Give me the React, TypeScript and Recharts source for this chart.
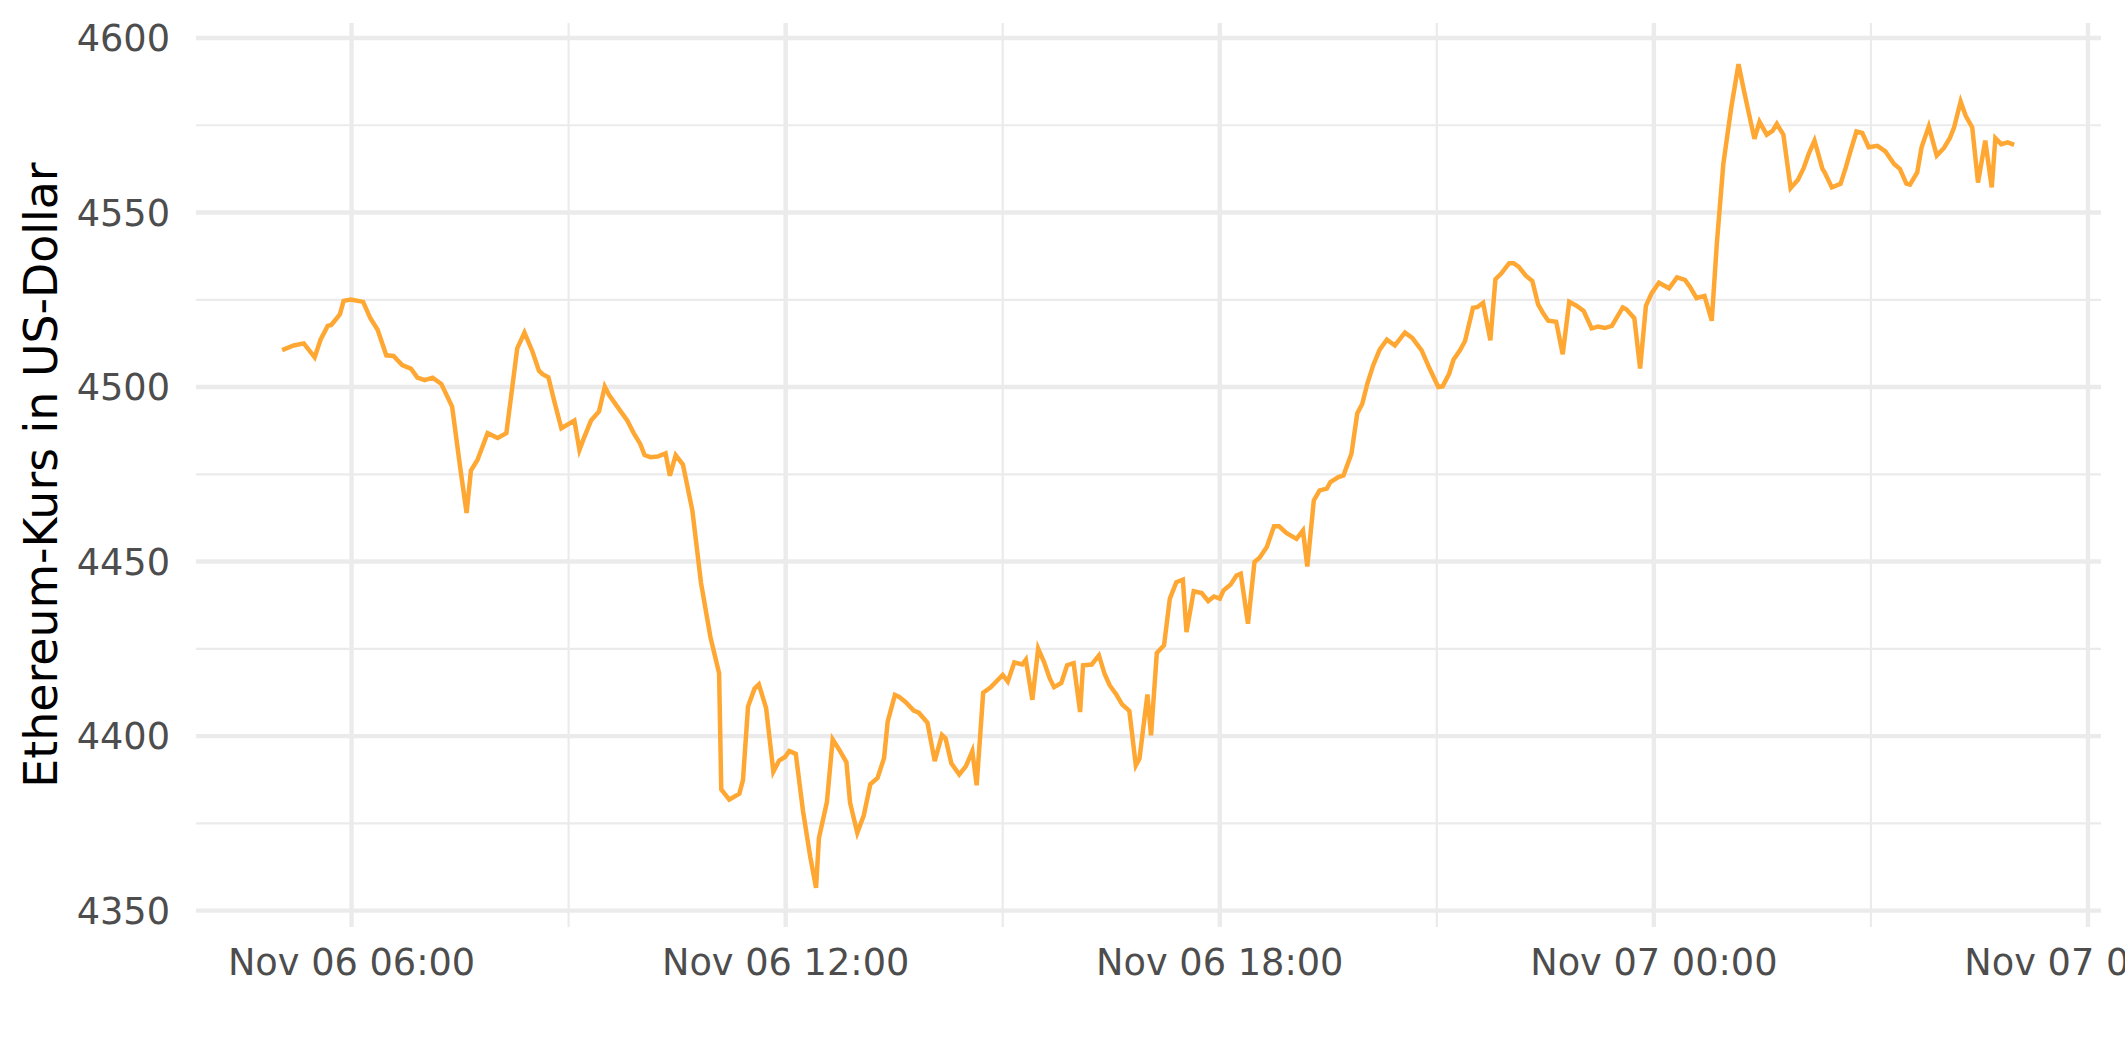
import { CartesianGrid, Line, LineChart, XAxis, YAxis } from 'recharts';

// hours since Nov 06 00:00
const hours = [
  5.04, 5.2, 5.34, 5.49, 5.57, 5.67, 5.72, 5.84, 5.89, 5.99, 6.16, 6.26, 6.36, 6.48, 6.58, 6.7, 6.82, 6.91, 7.01, 7.12,
  7.24, 7.39, 7.5, 7.59, 7.65, 7.74, 7.88, 8.02, 8.14, 8.29, 8.39, 8.5, 8.59, 8.64, 8.72, 8.81, 8.9, 9.08, 9.15, 9.21,
  9.31, 9.42, 9.5, 9.56, 9.7, 9.81, 9.9, 9.99, 10.05, 10.13, 10.23, 10.34, 10.4, 10.48, 10.58, 10.71, 10.83, 10.96,
  11.08, 11.11, 11.22, 11.36, 11.41, 11.48, 11.57, 11.63, 11.73, 11.83, 11.91, 11.99, 12.05, 12.14, 12.24, 12.34,
  12.42, 12.46, 12.57, 12.65, 12.74, 12.84, 12.89, 12.99, 13.08, 13.17, 13.27, 13.36, 13.41, 13.51, 13.57, 13.66,
  13.77, 13.84, 13.96, 14.06, 14.16, 14.21, 14.29, 14.4, 14.49, 14.58, 14.64, 14.73, 14.83, 15.0, 15.07, 15.16, 15.27,
  15.32, 15.41, 15.49, 15.57, 15.65, 15.71, 15.81, 15.89, 15.98, 16.07, 16.11, 16.23, 16.33, 16.41, 16.48, 16.57,
  16.65, 16.75, 16.84, 16.89, 17.0, 17.05, 17.13, 17.23, 17.31, 17.4, 17.49, 17.54, 17.64, 17.75, 17.84, 17.92, 18.0,
  18.05, 18.15, 18.23, 18.29, 18.39, 18.48, 18.55, 18.65, 18.75, 18.82, 18.92, 19.06, 19.15, 19.21, 19.3, 19.38,
  19.48, 19.53, 19.64, 19.71, 19.82, 19.9, 19.97, 20.04, 20.12, 20.21, 20.31, 20.42, 20.56, 20.66, 20.79, 20.9, 21.02,
  21.08, 21.17, 21.23, 21.32, 21.39, 21.5, 21.56, 21.64, 21.74, 21.81, 21.89, 22.0, 22.06, 22.13, 22.23, 22.32, 22.4,
  22.47, 22.54, 22.65, 22.74, 22.83, 22.93, 23.03, 23.14, 23.23, 23.32, 23.42, 23.57, 23.62, 23.73, 23.81, 23.89,
  23.97, 24.07, 24.21, 24.32, 24.43, 24.5, 24.59, 24.7, 24.8, 24.87, 24.96, 25.07, 25.17, 25.24, 25.31, 25.39, 25.46,
  25.56, 25.64, 25.7, 25.79, 25.89, 25.99, 26.07, 26.14, 26.22, 26.33, 26.36, 26.46, 26.58, 26.65, 26.72, 26.8, 26.88,
  26.97, 27.09, 27.2, 27.32, 27.4, 27.49, 27.54, 27.64, 27.7, 27.8, 27.91, 28.01, 28.09, 28.15, 28.24, 28.31, 28.4,
  28.48, 28.58, 28.67, 28.72, 28.8, 28.89, 28.98,
];

const price = [
  4510.6, 4511.9, 4512.5, 4508.5, 4513.5, 4517.5, 4517.8, 4520.9, 4524.7, 4525.1, 4524.4, 4519.7, 4516.4, 4509.1,
  4508.9, 4506.3, 4505.3, 4502.7, 4502.0, 4502.7, 4500.9, 4494.4, 4477.2, 4463.9, 4476.1, 4479.1, 4486.8, 4485.4,
  4486.8, 4511.1, 4515.6, 4510.2, 4504.7, 4503.7, 4502.8, 4495.3, 4488.2, 4490.4, 4482.0, 4485.3, 4490.4, 4493.0,
  4500.1, 4497.7, 4493.6, 4490.4, 4486.8, 4483.7, 4480.5, 4479.9, 4480.1, 4481.0, 4474.6, 4480.5, 4477.8, 4464.7,
  4443.9, 4428.4, 4418.0, 4384.7, 4381.8, 4383.5, 4387.4, 4408.5, 4413.6, 4414.8, 4408.0, 4389.8, 4393.0, 4394.0,
  4395.7, 4394.9, 4378.5, 4365.4, 4356.5, 4370.8, 4381.1, 4399.0, 4396.1, 4392.5, 4380.9, 4372.3, 4377.3, 4386.2,
  4388.0, 4393.7, 4404.1, 4411.8, 4411.2, 4409.7, 4407.3, 4406.7, 4403.8, 4392.8, 4400.3, 4399.3, 4392.2, 4389.0,
  4391.3, 4395.7, 4385.9, 4412.4, 4413.9, 4417.5, 4415.6, 4421.1, 4420.5, 4421.9, 4410.4, 4425.1, 4421.3, 4416.5,
  4414.0, 4415.2, 4420.3, 4420.9, 4406.9, 4420.3, 4420.5, 4423.1, 4417.7, 4414.5, 4411.9, 4409.1, 4407.2, 4391.6,
  4393.5, 4411.9, 4400.2, 4423.8, 4426.0, 4439.4, 4444.1, 4444.8, 4429.8, 4441.5, 4441.0, 4438.7, 4440.0, 4439.4,
  4441.7, 4443.4, 4446.0, 4446.5, 4432.2, 4449.9, 4451.1, 4454.2, 4460.1, 4460.1, 4458.2, 4456.5, 4458.9, 4448.6,
  4467.5, 4470.4, 4470.9, 4472.8, 4474.2, 4474.7, 4480.9, 4492.4, 4495.2, 4501.0, 4506.2, 4510.7, 4513.6, 4511.9,
  4515.6, 4514.1, 4510.5, 4505.3, 4500.0, 4500.2, 4503.8, 4507.8, 4510.5, 4513.2, 4522.7, 4522.9, 4524.1, 4513.4,
  4530.9, 4532.5, 4535.5, 4535.5, 4534.5, 4531.9, 4530.4, 4523.7, 4521.1, 4519.0, 4518.7, 4509.4, 4524.4, 4523.3,
  4521.8, 4516.8, 4517.3, 4516.9, 4517.5, 4522.8, 4522.3, 4519.7, 4505.3, 4523.3, 4526.9, 4529.9, 4528.3, 4531.4,
  4530.7, 4528.7, 4525.5, 4526.1, 4519.0, 4541.0, 4563.9, 4580.1, 4592.5, 4585.4, 4578.7, 4571.1, 4576.0, 4572.3,
  4573.4, 4575.4, 4572.3, 4557.0, 4559.3, 4562.7, 4566.8, 4570.6, 4562.5, 4561.5, 4557.2, 4558.2, 4562.7, 4567.7,
  4573.2, 4572.8, 4568.7, 4569.1, 4567.5, 4563.9, 4562.5, 4558.3, 4558.0, 4561.5, 4568.7, 4574.7, 4566.3, 4568.5,
  4571.3, 4574.4, 4581.8, 4577.7, 4574.4, 4558.6, 4570.6, 4557.2, 4571.3, 4569.6, 4570.1, 4569.4,
];

const xTicks = [6, 12, 18, 24, 30];
const xTickLabels = ['Nov 06 06:00', 'Nov 06 12:00', 'Nov 06 18:00', 'Nov 07 00:00', 'Nov 07 06:00'];
const xMinor = [9, 15, 21, 27];
const yTicks = [4350, 4400, 4450, 4500, 4550, 4600];
const yMinor = [4375, 4425, 4475, 4525, 4575];

const data = hours.map((h, i) => ({ h, price: price[i] }));

const FONT = 'DejaVu Sans';
const gridColor = '#EBEBEB';

export default function App() {
  return (
    <div style={{ position: 'absolute', left: 0, top: 0, width: 2125, height: 1062, background: '#fff' }}>
      <LineChart
        width={2125}
        height={1062}
        data={data}
        margin={{ top: 23, right: 24, bottom: 0, left: 0 }}
        style={{ fontFamily: FONT }}
      >
        <CartesianGrid stroke={gridColor} strokeWidth={2.2} horizontalValues={yMinor} verticalValues={xMinor} />
        <CartesianGrid stroke={gridColor} strokeWidth={4.4} horizontalValues={yTicks} verticalValues={xTicks} />
        <XAxis
          dataKey="h"
          type="number"
          domain={[3.85, 30.18]}
          allowDataOverflow
          ticks={xTicks}
          interval={0}
          tickFormatter={(v) => xTickLabels[xTicks.indexOf(v)] ?? ''}
          axisLine={false}
          tickLine={false}
          tickSize={0}
          tickMargin={22}
          height={135}
          tick={{ fill: '#4D4D4D', fontSize: 36.7, fontFamily: FONT }}
        />
        <YAxis
          type="number"
          domain={[4345.3, 4604.3]}
          allowDataOverflow
          ticks={yTicks}
          interval={0}
          axisLine={false}
          tickLine={false}
          tickSize={0}
          tickMargin={26}
          width={196}
          tick={{ fill: '#4D4D4D', fontSize: 36.7, fontFamily: FONT }}
          label={{
            content: () => (
              <text
                x={56.7}
                y={475}
                transform="rotate(-90, 56.7, 475)"
                textAnchor="middle"
                fontSize={45.8}
                fontFamily={FONT}
                fill="#000"
              >
                Ethereum-Kurs in US-Dollar
              </text>
            ),
          }}
        />
        <Line
          type="linear"
          dataKey="price"
          stroke="#FFA733"
          strokeWidth={4.5}
          dot={false}
          activeDot={false}
          isAnimationActive={false}
        />
      </LineChart>
    </div>
  );
}
